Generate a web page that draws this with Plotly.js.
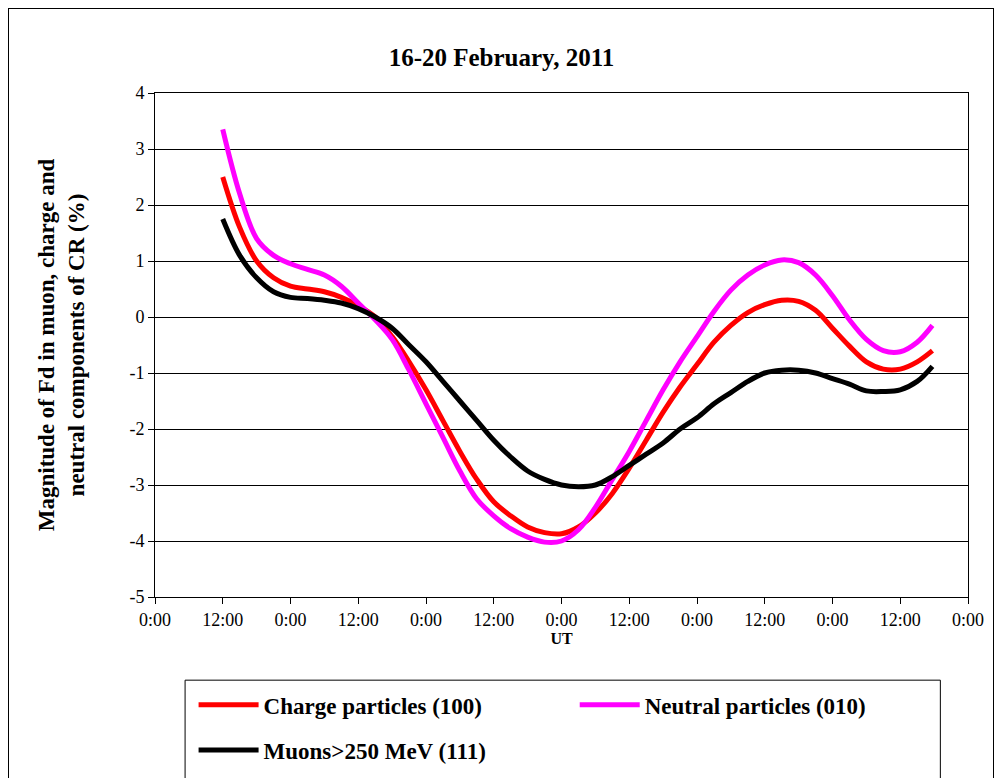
<!DOCTYPE html>
<html><head><meta charset="utf-8">
<script src="https://cdn.plot.ly/plotly-3.0.1.min.js"></script>
<style>body{margin:0;background:#fff}#frame{position:absolute;left:8px;top:8px;width:986px;height:780px;border:1px solid #000;box-sizing:border-box;pointer-events:none;z-index:5}#c{width:1003px;height:778px}</style>
</head><body><div id="frame"></div><div id="c"></div>
<script>
const hours = [12,15,18,21,24,27,30,33,36,39,42,45,48,51,54,57,60,63,66,69,72,75,78,81,84,87,90,93,96,99,102,105,108,111,114,117,120,123,126,129,132,135,137.7];
const charge = [2.5,1.6,1.0,0.7,0.55,0.5,0.45,0.35,0.2,0.0,-0.35,-0.8,-1.3,-1.85,-2.4,-2.9,-3.3,-3.55,-3.75,-3.85,-3.87,-3.75,-3.5,-3.15,-2.7,-2.2,-1.7,-1.25,-0.85,-0.45,-0.15,0.08,0.22,0.3,0.28,0.12,-0.2,-0.52,-0.8,-0.93,-0.93,-0.8,-0.6];
const neutral = [3.35,2.2,1.4,1.1,0.95,0.85,0.75,0.55,0.25,-0.05,-0.4,-0.95,-1.55,-2.15,-2.75,-3.25,-3.55,-3.78,-3.93,-4.02,-4.0,-3.8,-3.4,-2.9,-2.4,-1.85,-1.3,-0.8,-0.35,0.1,0.48,0.75,0.93,1.02,0.97,0.75,0.38,-0.05,-0.4,-0.6,-0.62,-0.45,-0.15];
const muons = [1.75,1.1,0.7,0.45,0.35,0.33,0.3,0.25,0.15,0.0,-0.2,-0.5,-0.8,-1.15,-1.5,-1.85,-2.2,-2.5,-2.75,-2.9,-3.0,-3.03,-3.0,-2.85,-2.65,-2.45,-2.25,-2.0,-1.8,-1.55,-1.35,-1.15,-1.0,-0.95,-0.95,-1.0,-1.1,-1.2,-1.32,-1.33,-1.3,-1.15,-0.88];
const tickVals = [0,12,24,36,48,60,72,84,96,108,120,132,144];
const tickText = ["0:00","12:00","0:00","12:00","0:00","12:00","0:00","12:00","0:00","12:00","0:00","12:00","0:00"];
const yTickVals = [-5,-4,-3,-2,-1,0,1,2,3,4];
const yTickText = ["-5","-4","-3","-2","-1","0","1","2","3","4"];
const F = "Liberation Serif, Times New Roman, serif";
const mk = (y,name,color,lg)=>({x:hours,y:y,name:'<b>'+name+'</b>',legend:lg,mode:'lines',line:{color:color,width:5,shape:'spline'}});
const lgCommon = {orientation:'h',xref:'container',yref:'container',xanchor:'left',yanchor:'middle',borderwidth:0,bgcolor:'rgba(0,0,0,0)',font:{size:23,family:F},itemwidth:60,tracegroupgap:0};
Plotly.newPlot('c',[mk(charge,'Charge particles (100)','#ff0000','legend'),mk(neutral,'Neutral particles (010)','#ff00ff','legend2'),mk(muons,'Muons>250 MeV (111)','#000000','legend3')],{
 width:1003,height:778,margin:{l:155,r:35,t:93,b:181},
 paper_bgcolor:'#fff',plot_bgcolor:'#fff',font:{family:F,color:'#000',size:18},
 title:{text:'<b>16-20 February, 2011</b>',x:0.5,xanchor:'center',y:0.927,yanchor:'middle',font:{size:25,family:F}},
 xaxis:{range:[0,144],tickvals:tickVals,ticktext:tickText,showgrid:false,zeroline:false,showline:true,linecolor:'#000',linewidth:1,ticks:'outside',ticklen:6,tickcolor:'#000',mirror:true,automargin:false,
  title:{text:'<b>UT</b>',font:{size:16,family:F},standoff:2}},
 yaxis:{range:[-5,4],tickvals:yTickVals,ticktext:yTickText,showgrid:true,gridcolor:'#000',gridwidth:1,zeroline:false,showline:true,linecolor:'#000',ticks:'outside',ticklen:6,tickcolor:'#000',mirror:true,automargin:false,
  title:{text:'<b>Magnitude of Fd in muon, charge and<br>neutral components of CR (%)</b>',font:{size:23,family:F},standoff:38}},
 shapes:[{type:'rect',xref:'paper',yref:'paper',x0:0.037,x1:0.966,y0:-0.165,y1:-0.4,line:{color:'#000',width:1},fillcolor:'rgba(0,0,0,0)',layer:'above'}],
 showlegend:true,
 legend:Object.assign({},lgCommon,{x:0.193,y:0.094}),
 legend2:Object.assign({},lgCommon,{x:0.573,y:0.094}),
 legend3:Object.assign({},lgCommon,{x:0.193,y:0.036})
},{displayModeBar:false});
</script></body></html>
